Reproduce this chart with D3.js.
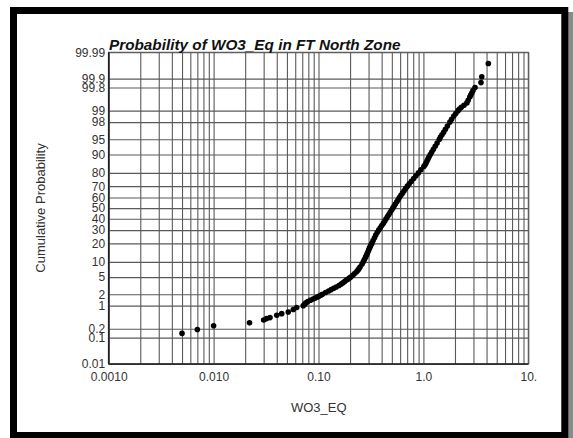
<!DOCTYPE html>
<html><head><meta charset="utf-8">
<script src="https://cdn.jsdelivr.net/npm/d3@7"></script>
<style>html,body{margin:0;padding:0;background:#fff;} svg{display:block;}</style>
</head><body>
<svg id="chart" width="573" height="438"></svg>
<script>
const titleText = "Probability of WO3_Eq in FT North Zone";
const xAxisTitle = "WO3_EQ";
const yAxisTitle = "Cumulative Probability";
const xTickValues = [0.001, 0.01, 0.1, 1, 10];
const xTickLabels = ["0.0010", "0.010", "0.10", "1.0", "10."];
const yTickValues = [0.01, 0.1, 0.2, 1, 2, 5, 10, 20, 30, 40, 50, 60, 70, 80, 90, 95, 98, 99, 99.8, 99.9, 99.99];
const yTickLabels = ["0.01", "0.1", "0.2", "1", "2", "5", "10", "20", "30", "40", "50", "60", "70", "80", "90", "95", "98", "99", "99.8", "99.9", "99.99"];

// WO3_EQ sample values (x) and their cumulative probability in percent (y)
const wo3Values = [
  0.005, 0.007, 0.010, 0.022, 0.030, 0.032, 0.0345, 0.040, 0.0446, 0.0515, 0.0575, 0.062,
  0.0716, 0.0739, 0.0760, 0.0791, 0.0837, 0.0888, 0.0932, 0.0976, 0.1016, 0.1059, 0.1092,
  0.1169, 0.1248, 0.1322, 0.1396, 0.1475, 0.1568, 0.1646, 0.1709, 0.1773, 0.1837, 0.1902,
  0.1970, 0.2032, 0.2137, 0.2223, 0.2318, 0.2380, 0.2438, 0.2492, 0.2598, 0.2673, 0.2739,
  0.2806, 0.2868, 0.2919, 0.2971, 0.3017, 0.3063, 0.3111, 0.3159, 0.3222, 0.3315, 0.3418,
  0.3517, 0.3627, 0.3749, 0.3883, 0.4013, 0.4156, 0.4285, 0.4409, 0.4547, 0.4689, 0.4825,
  0.4965, 0.5108, 0.5256, 0.5408, 0.5578, 0.5739, 0.5905, 0.6102, 0.6321, 0.6546, 0.6780,
  0.7038, 0.7338, 0.7683, 0.8081, 0.8482, 0.8961, 0.9467, 1.009, 1.038, 1.061, 1.082, 1.106,
  1.133, 1.164, 1.202, 1.245, 1.296, 1.351, 1.418, 1.455, 1.504, 1.558, 1.621, 1.694, 1.789,
  1.857, 1.949, 2.037, 2.142, 2.204, 2.298, 2.438, 2.598, 2.673, 2.769, 2.824, 2.893, 2.971,
  3.104, 3.54, 3.60, 4.16
];
const cumProb = [
  0.14, 0.19, 0.25, 0.31, 0.38, 0.42, 0.45, 0.53, 0.59, 0.66, 0.78, 0.89,
  1.0, 1.1, 1.2, 1.3, 1.4, 1.5, 1.6, 1.7, 1.8, 1.9, 2.0,
  2.2, 2.4, 2.6, 2.8, 3.0, 3.25, 3.5, 3.75, 4.0, 4.25, 4.5,
  4.75, 5.0, 5.5, 6.0, 6.5, 7.0, 7.5, 8, 9, 10, 11,
  12, 13, 14, 15, 16, 17, 18, 19, 20, 22, 24,
  26, 28, 30, 32, 34, 36, 38, 40, 42, 44, 46,
  48, 50, 52, 54, 56, 58, 60, 62, 64, 66, 68,
  70, 72, 74, 76, 78, 80, 82, 84, 85, 86, 87, 88,
  89, 90, 91, 92, 93, 94, 95, 95.5, 96, 96.5, 97, 97.5, 98,
  98.3, 98.6, 98.8, 99.0, 99.1, 99.2, 99.3, 99.4, 99.5, 99.6, 99.65, 99.7, 99.75,
  99.8, 99.863, 99.914, 99.972
];

// inverse standard normal CDF (probability axis transform)
function probit(p) {
  const a = [-3.969683028665376e+01, 2.209460984245205e+02, -2.759285104469687e+02, 1.383577518672690e+02, -3.066479806614716e+01, 2.506628277459239e+00];
  const b = [-5.447609879822406e+01, 1.615858368580409e+02, -1.556989798598866e+02, 6.680131188771972e+01, -1.328068155288572e+01];
  const c = [-7.784894002430293e-03, -3.223964580411365e-01, -2.400758277161838e+00, -2.549732539343734e+00, 4.374664141464968e+00, 2.938163982698783e+00];
  const d = [7.784695709041462e-03, 3.224671290700398e-01, 2.445134137142996e+00, 3.754408661907416e+00];
  const pl = 0.02425, ph = 1 - pl;
  let q, r;
  if (p < pl) { q = Math.sqrt(-2 * Math.log(p)); return (((((c[0]*q+c[1])*q+c[2])*q+c[3])*q+c[4])*q+c[5]) / ((((d[0]*q+d[1])*q+d[2])*q+d[3])*q+1); }
  if (p <= ph) { q = p - 0.5; r = q*q; return (((((a[0]*r+a[1])*r+a[2])*r+a[3])*r+a[4])*r+a[5])*q / (((((b[0]*r+b[1])*r+b[2])*r+b[3])*r+b[4])*r+1); }
  q = Math.sqrt(-2 * Math.log(1 - p));
  return -(((((c[0]*q+c[1])*q+c[2])*q+c[3])*q+c[4])*q+c[5]) / ((((d[0]*q+d[1])*q+d[2])*q+d[3])*q+1);
}

const L = 108.7, R = 528.3, T = 52.3, B = 364;
const svg = d3.select("#chart");
const FONT = "'Liberation Sans', Arial, Helvetica, sans-serif";

// page frame with shadow
svg.append("rect").attr("x", 15).attr("y", 12).attr("width", 558).attr("height", 440).attr("fill", "#8a8a8a");
svg.append("rect").attr("x", 13.5).attr("y", 10.5).attr("width", 551.3).attr("height", 425)
  .attr("fill", "#fff").attr("stroke", "#000").attr("stroke-width", 7);

const x = d3.scaleLog().domain([0.001, 10]).range([L, R]);
const zScale = d3.scaleLinear().domain([probit(0.0001), probit(0.9999)]).range([B, T]);
const y = p => zScale(probit(p / 100));

const gridColor = "#5a5a5a";

// vertical grid (log minor lines)
const gx = svg.append("g").attr("transform", `translate(0,${B})`)
  .call(d3.axisBottom(x).tickValues(x.ticks()).tickSize(-(B - T)).tickFormat(""));
gx.select(".domain").remove();
gx.selectAll("line").attr("stroke", gridColor).attr("stroke-width", 1.1);

// horizontal grid
const gy = svg.append("g").attr("transform", `translate(${L},0)`)
  .call(d3.axisLeft(zScale).tickValues(yTickValues.map(v => probit(v / 100))).tickSize(-(R - L)).tickFormat(""));
gy.select(".domain").remove();
gy.selectAll("line").attr("stroke", gridColor).attr("stroke-width", 1.1);

// plot frame
svg.append("rect").attr("x", L).attr("y", T).attr("width", R - L).attr("height", B - T)
  .attr("fill", "none").attr("stroke", gridColor).attr("stroke-width", 1.1);
svg.append("line").attr("x1", L).attr("x2", L).attr("y1", T).attr("y2", B).attr("stroke", "#222").attr("stroke-width", 1.6);
svg.append("line").attr("x1", L).attr("x2", R).attr("y1", B).attr("y2", B).attr("stroke", "#222").attr("stroke-width", 1.6);

// tick labels
const ax = svg.append("g").attr("transform", `translate(0,${B})`)
  .call(d3.axisBottom(x).tickValues(xTickValues).tickSize(0).tickPadding(8.5).tickFormat((d, i) => xTickLabels[i]));
ax.select(".domain").remove();
ax.selectAll("text").attr("font-family", FONT).attr("font-size", 12).attr("fill", "#333");

const ay = svg.append("g").attr("transform", `translate(${L},0)`)
  .call(d3.axisLeft(zScale).tickValues(yTickValues.map(v => probit(v / 100))).tickSize(0).tickPadding(3.5).tickFormat((d, i) => yTickLabels[i]));
ay.select(".domain").remove();
ay.selectAll("text").attr("font-family", FONT).attr("font-size", 12).attr("fill", "#333");

// axis titles
svg.append("text").attr("x", 318.8).attr("y", 411.5).attr("text-anchor", "middle")
  .attr("font-family", FONT).attr("font-size", 13).attr("fill", "#333").text(xAxisTitle);
svg.append("text").attr("transform", "translate(44.5,208) rotate(-90)").attr("text-anchor", "middle")
  .attr("font-family", FONT).attr("font-size", 13).attr("fill", "#333").text(yAxisTitle);

// title
svg.append("text").attr("x", 109).attr("y", 49.5)
  .attr("font-family", FONT).attr("font-size", 15.3).attr("font-weight", "bold").attr("font-style", "italic")
  .attr("fill", "#111").text(titleText);

// points
svg.append("g").selectAll("circle").data(wo3Values.map((v, i) => ({ v, p: cumProb[i] })))
  .join("circle").attr("cx", d => x(d.v)).attr("cy", d => y(d.p)).attr("r", 2.8).attr("fill", "#000");
</script>
</body></html>
